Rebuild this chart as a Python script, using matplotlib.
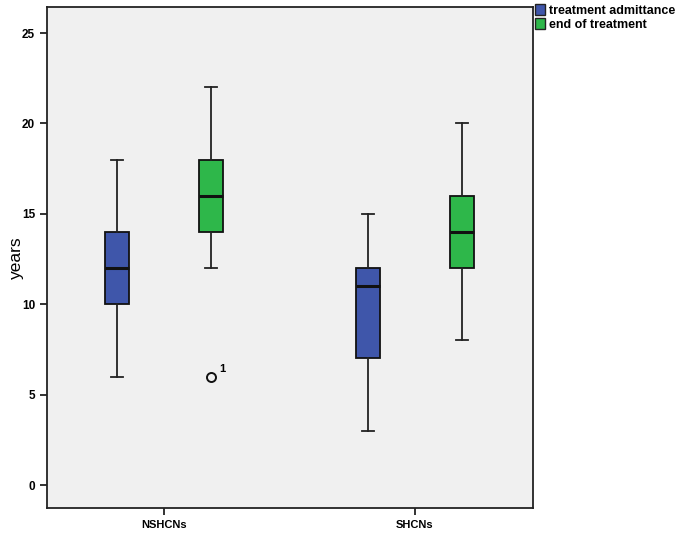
import matplotlib
matplotlib.use('Agg')
import matplotlib.pyplot as plt
from matplotlib.patches import Patch

plt.rcParams['font.family'] = ['Liberation Sans', 'DejaVu Sans']

groups = ['NSHCNs', 'SHCNs']
series = ['treatment admittance', 'end of treatment']
colors = ['#3F56AA', '#2EB74A']

# box stats: [whislo, q1, med, q3, whishi] per group per series
admit_stats = [[6, 10, 12, 14, 18], [3, 7, 11, 12, 15]]
end_stats = [[12, 14, 16, 18, 22], [8, 12, 14, 16, 20]]
end_fliers = [[6], []]
flier_labels = [['1'], []]

fig = plt.figure(figsize=(6.85, 5.36), dpi=100)
ax = fig.add_axes([0.0686, 0.0522, 0.709, 0.9348])
ax.set_facecolor('#F0F0F0')

off = 0.187
w = 0.096
for k, (stats_list, col) in enumerate([(admit_stats, colors[0]), (end_stats, colors[1])]):
    bstats = []
    for g in range(len(groups)):
        lo, q1, med, q3, hi = stats_list[g]
        fl = end_fliers[g] if k == 1 else []
        bstats.append(dict(whislo=lo, q1=q1, med=med, q3=q3, whishi=hi, fliers=fl))
    pos = [g + (off if k == 1 else -off) for g in range(len(groups))]
    ax.bxp(bstats, positions=pos, widths=w, patch_artist=True,
           boxprops=dict(facecolor=col, edgecolor='#111111', linewidth=1.3),
           medianprops=dict(color='#111111', linewidth=2.2),
           whiskerprops=dict(color='#222222', linewidth=1.3),
           capprops=dict(color='#222222', linewidth=1.3),
           capwidths=0.048,
           flierprops=dict(marker='o', markerfacecolor='none', markeredgecolor='#111111',
                           markersize=6.5, markeredgewidth=1.4))
    if k == 1:
        for g in range(len(groups)):
            for v, lab in zip(end_fliers[g], flier_labels[g]):
                ax.annotate(lab, (g + off, v), xytext=(6, 3), textcoords='offset points',
                            fontsize=8, fontweight='bold')

ax.set_xlim(-0.466, 0.469 + 1)
ax.set_ylim(-1.27, 26.44)
ax.set_yticks([0, 5, 10, 15, 20, 25])
ax.set_xticks(range(len(groups)))
ax.set_xticklabels(groups, fontweight='bold', fontsize=8)
for t in ax.get_yticklabels():
    t.set_fontweight('bold')
    t.set_fontsize(8.5)
ax.tick_params(direction='out', length=5, width=1.3, color='#222222')
ax.set_ylabel('years', fontsize=12.5)
ax.yaxis.set_label_coords(-0.047, 0.5)
for s in ax.spines.values():
    s.set_linewidth(1.3)
    s.set_color('#222222')

handles = [Patch(facecolor=c, edgecolor='#222222', linewidth=1) for c in colors]
fig.legend(handles, series, loc='upper left', bbox_to_anchor=(0.779, 0.995),
           frameon=False, handlelength=0.8, handleheight=1.0,
           handletextpad=0.3, labelspacing=0.1, borderaxespad=0, borderpad=0.1,
           prop=dict(weight='bold', size=9))

fig.savefig('out.png', dpi=100)
